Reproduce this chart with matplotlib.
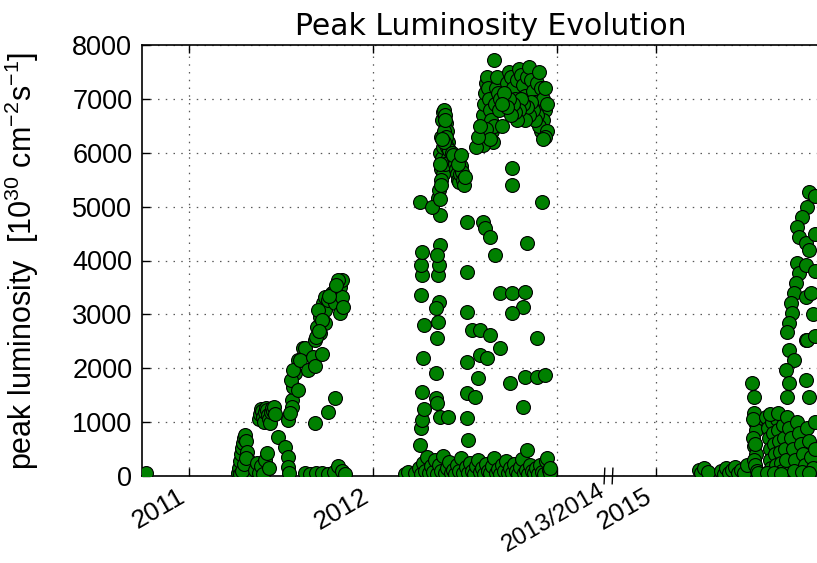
import matplotlib
matplotlib.use("Agg")
import matplotlib.pyplot as plt
import matplotlib.transforms as mtransforms
import numpy as np

# fill dates (decimal years) and peak luminosity [1e30 cm^-2 s^-1]
t_2011 = [2010.766,
          2011.266, 2011.272, 2011.277, 2011.283, 2011.288, 2011.294, 2011.299, 2011.304,
          2011.310, 2011.315, 2011.321, 2011.326, 2011.332, 2011.277, 2011.288, 2011.299, 2011.310,
          2011.359, 2011.370, 2011.380, 2011.391, 2011.402, 2011.413, 2011.424, 2011.435,
          2011.380, 2011.386, 2011.391, 2011.397, 2011.402, 2011.408, 2011.413, 2011.418,
          2011.424, 2011.429, 2011.435, 2011.440, 2011.446, 2011.451, 2011.457, 2011.462, 2011.467,
          2011.484, 2011.522, 2011.538, 2011.540, 2011.545,
          2011.538, 2011.560, 2011.560, 2011.565, 2011.576, 2011.592, 2011.620, 2011.630,
          2011.549, 2011.554, 2011.565, 2011.603, 2011.647, 2011.674, 2011.685, 2011.592,
          2011.685, 2011.696, 2011.712, 2011.728, 2011.739, 2011.739, 2011.739, 2011.755,
          2011.777, 2011.793, 2011.793, 2011.821, 2011.821, 2011.832, 2011.810, 2011.832,
          2011.837, 2011.701, 2011.723, 2011.712, 2011.690, 2011.705, 2011.760, 2011.800,
          2011.723, 2011.685, 2011.755, 2011.793,
          2011.630, 2011.658, 2011.690, 2011.723, 2011.755, 2011.788, 2011.810, 2011.832, 2011.848]
lum_2011 = [50,
            60, 150, 280, 400, 520, 620, 700, 760,
            650, 450, 300, 180, 80, 30, 100, 220, 330,
            120, 250, 60, 180, 40, 300, 430, 150,
            1050, 1150, 1250, 1200, 1100, 1000, 1180, 1270,
            1220, 1130, 1050, 980, 1180, 1260, 1200, 1290, 1150,
            720, 540, 350, 170, 60,
            1040, 1410, 1280, 1650, 1910, 2150, 2380, 2380,
            1170, 1780, 1970, 2150, 1970, 2210, 2050, 1600,
            2520, 2770, 2950, 3210, 3320, 3080, 2840, 3270,
            3400, 3450, 3210, 3030, 3510, 3640, 3640, 3320,
            3140, 3080, 2900, 2650, 2580, 2700, 3350, 3550,
            2260, 980, 1190, 1450,
            50, 40, 60, 50, 40, 70, 180, 90, 40]

t_2012 = [2012.174, 2012.190, 2012.228, 2012.250, 2012.260, 2012.272, 2012.283, 2012.294,
          2012.305, 2012.316, 2012.327, 2012.338, 2012.350, 2012.360, 2012.371, 2012.382,
          2012.393, 2012.404, 2012.415, 2012.426, 2012.437, 2012.448, 2012.459, 2012.470,
          2012.481, 2012.492, 2012.503, 2012.514, 2012.525, 2012.536, 2012.547, 2012.558,
          2012.569, 2012.580, 2012.591, 2012.602, 2012.613, 2012.624, 2012.635, 2012.646,
          2012.657, 2012.668, 2012.679, 2012.690, 2012.701, 2012.712, 2012.723, 2012.734,
          2012.745, 2012.756, 2012.767, 2012.778, 2012.789, 2012.800, 2012.811, 2012.822,
          2012.833, 2012.844, 2012.855, 2012.866, 2012.877, 2012.888, 2012.899, 2012.910,
          2012.921, 2012.932, 2012.943, 2012.954, 2012.962,
          2012.255, 2012.262, 2012.268, 2012.265, 2012.270, 2012.275, 2012.262, 2012.268,
          2012.260, 2012.265, 2012.258, 2012.275,
          2012.342, 2012.348, 2012.340, 2012.350, 2012.355, 2012.360, 2012.345, 2012.352,
          2012.358, 2012.362, 2012.348, 2012.355, 2012.362, 2012.365, 2012.320,
          2012.364, 2012.370, 2012.375, 2012.380, 2012.386, 2012.391, 2012.397, 2012.402,
          2012.408, 2012.375, 2012.380, 2012.386, 2012.391, 2012.397, 2012.402, 2012.408,
          2012.413, 2012.370, 2012.380, 2012.391, 2012.386, 2012.375, 2012.364, 2012.369,
          2012.358, 2012.364, 2012.372,
          2012.440, 2012.446, 2012.451, 2012.457, 2012.462, 2012.468, 2012.473, 2012.478,
          2012.484, 2012.489, 2012.495, 2012.430, 2012.435, 2012.462, 2012.478, 2012.500,
          2012.582, 2012.590, 2012.598, 2012.604, 2012.609, 2012.615, 2012.620, 2012.625,
          2012.630, 2012.636, 2012.641, 2012.647, 2012.652, 2012.658, 2012.663, 2012.668,
          2012.674, 2012.680, 2012.685, 2012.690, 2012.598, 2012.615, 2012.636, 2012.658,
          2012.560, 2012.571, 2012.582,
          2012.728, 2012.739, 2012.750, 2012.761, 2012.772, 2012.783, 2012.793, 2012.804,
          2012.815, 2012.826, 2012.837, 2012.848, 2012.859, 2012.870, 2012.880, 2012.891,
          2012.902, 2012.913, 2012.924, 2012.935, 2012.935, 2012.946, 2012.924, 2012.913,
          2012.902, 2012.891, 2012.880, 2012.870, 2012.859, 2012.848, 2012.837, 2012.826,
          2012.815, 2012.804, 2012.793, 2012.783, 2012.772, 2012.761, 2012.750, 2012.739,
          2012.728, 2012.945, 2012.935, 2012.924, 2012.713, 2012.702, 2012.700,
          2012.511, 2012.598, 2012.609, 2012.636, 2012.663, 2012.511, 2012.511, 2012.538,
          2012.582, 2012.636, 2012.690, 2012.511, 2012.582, 2012.620, 2012.571, 2012.511,
          2012.554, 2012.408, 2012.511, 2012.516, 2012.690, 2012.755, 2012.826, 2012.815,
          2012.755, 2012.755, 2012.755, 2012.837, 2012.918, 2012.891, 2012.745, 2012.826,
          2012.891, 2012.935, 2012.815, 2012.837, 2012.946, 2012.962]
lum_2012 = [30, 80, 60, 150, 40, 250, 100, 350,
            50, 180, 80, 300, 40, 200, 90, 380,
            50, 150, 260, 60, 120, 30, 200, 90,
            330, 50, 170, 60, 240, 100, 40, 180,
            300, 70, 150, 40, 220, 90, 50, 180,
            330, 60, 130, 40, 200, 90, 280, 50,
            150, 60, 230, 100, 40, 170, 320, 60,
            120, 40, 200, 90, 50, 140, 40, 210,
            80, 30, 280, 120, 50,
            580, 890, 1040, 1560, 2190, 2800, 3360, 3730,
            3920, 4160, 5090, 1240,
            1450, 1350, 1910, 2560, 2860, 3230, 3120, 3730,
            3920, 4290, 4100, 5160, 4840, 1100, 5000,
            6000, 6300, 6600, 6750, 6800, 6700, 6550, 6400,
            6200, 5900, 6100, 6400, 6600, 6300, 6100, 5900,
            6050, 5700, 5600, 5800, 6200, 6250, 5800, 5500,
            5300, 5150, 5400,
            5900, 5800, 5700, 5600, 5500, 5450, 5600, 5750,
            5650, 5500, 5400, 6000, 5950, 5800, 5950, 5550,
            6300, 6500, 6700, 6900, 7100, 7300, 7400, 7200,
            7000, 6800, 6600, 6400, 6200, 6500, 6900, 7200,
            7400, 7100, 6800, 7000, 6150, 6450, 6250, 7720,
            6100, 6300, 6500,
            7300, 7500, 7400, 7200, 7000, 7350, 7550, 7450,
            7250, 7050, 7400, 7600, 7350, 7150, 6950, 7300,
            7500, 7200, 7000, 6800, 7200, 6900, 6600, 6400,
            6500, 6700, 6600, 6800, 6950, 6700, 6850, 6600,
            6900, 7000, 6800, 6600, 6750, 6900, 6700, 7000,
            6850, 6400, 6300, 6250, 7100, 6900, 6500,
            4710, 4710, 4600, 4440, 4100, 3790, 3040, 2710,
            2710, 2620, 2380, 2120, 2250, 2190, 1820, 1540,
            1470, 1100, 1080, 670, 3400, 3400, 3420, 3140,
            3020, 5720, 5400, 4320, 5090, 2560, 1730, 1840,
            1840, 1870, 1280, 480, 330, 150]

t_2015 = [2015.234, 2015.245, 2015.261, 2015.280, 2015.353, 2015.370, 2015.380, 2015.397,
          2015.413, 2015.430, 2015.445, 2015.462, 2015.478, 2015.495,
          2015.522, 2015.530, 2015.530, 2015.535, 2015.540, 2015.525, 2015.532, 2015.540,
          2015.528, 2015.536, 2015.545, 2015.550, 2015.525, 2015.538,
          2015.598, 2015.605, 2015.610, 2015.615, 2015.620, 2015.625, 2015.630, 2015.636,
          2015.641, 2015.647, 2015.652, 2015.658, 2015.663, 2015.668, 2015.674, 2015.680,
          2015.685, 2015.690, 2015.696, 2015.701, 2015.707, 2015.600, 2015.640, 2015.680,
          2015.620, 2015.660,
          2015.832, 2015.821, 2015.793, 2015.766, 2015.777, 2015.815, 2015.832, 2015.766,
          2015.777, 2015.815, 2015.761, 2015.750, 2015.734, 2015.739, 2015.723, 2015.712,
          2015.815, 2015.723, 2015.750, 2015.707, 2015.723, 2015.712, 2015.815, 2015.832,
          2015.815, 2015.842, 2015.821,
          2015.712, 2015.723, 2015.734, 2015.745, 2015.756, 2015.766, 2015.777, 2015.788,
          2015.799, 2015.810, 2015.821, 2015.832, 2015.842, 2015.853, 2015.864, 2015.750,
          2015.790, 2015.830, 2015.860, 2015.864, 2015.864, 2015.864, 2015.860, 2015.850]
lum_2015 = [120, 60, 150, 80, 90, 40, 150, 60,
            110, 170, 50, 120, 60, 200,
            1730, 1470, 1170, 1000, 850, 700, 550, 400,
            300, 200, 100, 50, 1050, 600,
            1100, 900, 700, 500, 300, 150, 1000, 800,
            600, 400, 200, 1050, 850, 650, 450, 250,
            100, 950, 700, 500, 300, 60, 50, 40,
            1150, 1170,
            5270, 4990, 4810, 4620, 4440, 4320, 4190, 3950,
            3770, 3920, 3580, 3400, 3210, 3030, 2840, 2670,
            2520, 2340, 2150, 1970, 1730, 1470, 1780, 1470,
            3320, 3400, 2520,
            1100, 900, 700, 500, 300, 1000, 800, 600,
            400, 200, 900, 650, 350, 150, 500, 100,
            80, 60, 1000, 2600, 3800, 5200, 4500, 3000]

# broken time axis: 2013-2014 (no beam) squeezed out
BREAK_AT = 2013.28
POS_2015 = 2013.54
GAP = 2015 - POS_2015

plt.rcParams['font.family'] = ['Liberation Sans', 'DejaVu Sans']
plt.rcParams['mathtext.fontset'] = 'custom'
plt.rcParams['mathtext.rm'] = 'Liberation Sans'
plt.rcParams['mathtext.it'] = 'Liberation Sans:italic'

fig = plt.figure(figsize=(8.17, 5.63), dpi=100)
ax = fig.add_axes([142/817, 87/563, 698/817, 431/563])

t = np.concatenate([t_2011, t_2012, t_2015])
lum = np.concatenate([lum_2011, lum_2012, lum_2015])
x = np.where(t > 2014, t - GAP, t)

ax.plot(x, lum, 'o', color='g', mec='k', mew=0.8, ms=10, ls='none', zorder=3)

ax.set_xlim(2010.745, 2011 + (840 - 189) / 184)
ax.set_ylim(0, 8000)
ax.set_yticks(range(0, 8001, 1000))

ax.set_xticks([2011, 2012, 2013, POS_2015])
ax.set_xticklabels(['2011', '2012', '', '2015'], rotation=30, ha='right')
ax.set_xticks([BREAK_AT], minor=True)
ax.set_xticklabels(['2013/2014'], minor=True, rotation=30, ha='right')

ax.tick_params(which='major', direction='in', length=6, width=1, top=True, right=True,
               labelsize=19, pad=6)
ax.tick_params(which='minor', length=0, labelsize=17.5, pad=3)
ax.tick_params(axis='y', labelsize=19.5, pad=7)
ax.grid(True, which='major', color='0.35', linestyle=(0, (1.2, 5)), linewidth=0.9)

for s in ax.spines.values():
    s.set_linewidth(1.2)

# break marks on the time axis
trans = mtransforms.blended_transform_factory(ax.transData, ax.transAxes)
for dx in (-0.022, 0.022):
    ax.plot([BREAK_AT + dx - 0.002, BREAK_AT + dx + 0.002], [-0.018, 0.018],
            color='k', lw=1.0, transform=trans, clip_on=False, zorder=5)

ax.set_title('Peak Luminosity Evolution', fontsize=21.5, family='DejaVu Sans', pad=7)
ax.set_ylabel('peak luminosity  [10$^{30}$ cm$^{-2}$s$^{-1}$]', fontsize=22, labelpad=22)

fig.savefig('out.png', dpi=100)
